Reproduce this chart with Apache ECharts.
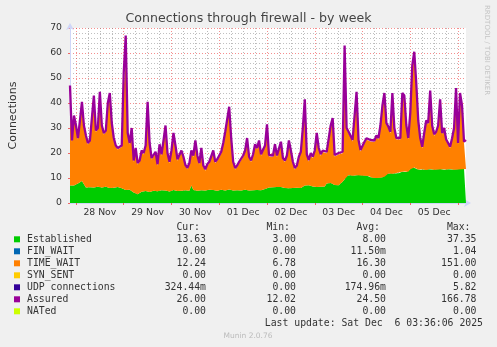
<!DOCTYPE html>
<html><head><meta charset="utf-8">
<script src="https://cdn.jsdelivr.net/npm/echarts@6/dist/echarts.min.js"></script>
<style>html,body{margin:0;padding:0;background:#f0f0f0}#c{width:497px;height:347px}</style>
</head><body><div id="c"></div>
<script>
// hours since 27 Nov 00:00 (one sample per hour)
const hours = [];
for (let h = 21; h <= 220; h++) hours.push(h);
const dayLabels = ['28 Nov', '29 Nov', '30 Nov', '01 Dec', '02 Dec', '03 Dec', '04 Dec', '05 Dec'];
const yTicks = [0, 10, 20, 30, 40, 50, 60, 70];

const established = [
7.0,7.2,7.0,7.3,7.8,8.5,8.8,7.5,
6.2,6.5,6.3,6.4,6.2,6.3,6.5,6.4,6.2,6.3,6.5,6.2,6.0,6.3,6.1,6.2,6.4,6.0,5.9,
5.5,5.2,5.0,5.3,5.0,
4.2,3.8,3.5,4.0,
4.5,4.3,4.8,4.6,4.4,4.7,
4.9,5.0,4.7,4.8,5.1,4.9,5.0,4.8,4.6,4.9,5.2,5.0,4.8,4.7,4.9,5.0,5.1,4.8,4.9,
7.0,5.2,5.0,4.9,5.0,5.1,
5.2,5.0,5.1,5.3,5.0,5.2,5.1,4.9,5.2,5.3,5.1,5.0,5.2,5.4,5.1,5.0,5.2,5.1,4.9,5.0,5.2,5.3,5.1,5.0,5.2,5.1,5.3,5.2,5.0,5.1,5.4,
5.6,5.9,6.2,6.5,6.3,6.6,6.4,6.2,6.4,
6.1,6.0,6.2,5.9,6.1,6.0,6.2,6.1,5.9,6.0,6.2,
7.0,7.2,7.1,6.9,
6.6,6.5,6.4,6.6,6.5,6.7,6.6,
7.8,8.2,8.0,7.6,
7.2,7.3,7.1,
7.8,8.5,9.5,
11.0,11.2,11.1,10.9,11.0,
11.1,11.2,11.0,11.1,10.9,11.0,10.8,
10.3,10.1,10.2,10.0,10.2,10.1,10.3,10.5,
11.5,11.8,11.9,11.7,11.8,12.0,11.9,
12.4,12.5,12.6,12.4,12.5,
13.5,14.5,14.2,
13.6,13.4,13.3,13.5,13.4,13.2,13.5,13.6,13.4,13.3,13.5,13.4,13.6,13.5,13.3,13.4,13.5,13.6,13.4,13.3,13.5,13.4,13.6,13.5,13.7,13.6
];

const timeWait = [
28.0,17.2,27.4,23.1,17.6,23.9,31.1,22.9,20.2,16.9,
18.1,17.5,36.2,22.1,22.9,37.5,24.2,21.1,21.9,33.2,
37.4,25.1,19.3,16.2,15.0,14.9,16.5,40.5,50.8,22.4,
18.1,24.4,12.2,17.6,11.9,12.4,15.9,15.1,17.6,35.3,
19.0,12.7,13.0,14.9,10.2,18.1,13.8,19.5,25.4,14.6,
11.3,15.5,22.2,17.4,12.1,12.2,15.5,12.9,9.5,8.7,
10.5,13.4,13.2,19.4,13.5,10.4,16.3,9.2,7.9,9.8,
10.6,10.4,15.2,10.8,12.0,13.2,14.6,18.3,22.9,22.7,
32.5,20.3,10.9,8.2,9.3,11.0,11.4,13.2,15.1,20.3,
12.9,11.2,13.8,17.6,16.2,19.4,13.8,13.0,16.8,25.0,
12.4,12.4,12.1,16.3,12.0,11.7,17.5,11.3,10.4,12.2,
18.5,14.3,9.9,7.2,8.3,12.0,13.9,23.2,33.9,11.7,
9.5,12.5,11.3,13.9,21.0,14.8,12.4,13.7,13.6,12.1,
11.2,22.4,25.8,11.4,10.6,12.3,11.6,11.4,42.5,18.4,
16.7,17.3,13.7,14.4,32.8,13.4,9.6,10.3,13.0,14.3,
13.8,14.3,14.8,14.2,16.4,15.2,20.3,28.1,32.9,19.9,
18.1,16.0,31.7,17.6,13.4,12.7,13.0,30.9,29.8,18.2,
12.9,21.9,39.9,43.8,33.8,19.0,12.1,8.4,14.0,19.2,
17.9,30.8,17.0,13.6,14.4,17.0,27.3,13.9,16.1,11.5,
10.9,8.3,11.9,16.1,31.9,10.0,29.8,24.9,10.2,11.0
];

const assured = [
47,25,35,31,26,33,40.5,31,27,24,
25,24.5,43,29,30,44.5,31,28,29,40,
44,32,26,23,22,21.5,23,52,67,28,
24,30,17,22,16,17,21,20,23,40.5,
24,18,18.5,20.5,15.5,23.5,19.5,25,31,20,
16.5,21,28,23,17.5,17.5,21,18.5,15.2,14.1,
16,21,19,25,19,16,22,15,13.5,15.5,
16.5,16,21,16.5,17.5,19,20.5,24,28.5,28.5,
38.5,26,16.5,14,15,16.5,17,19,21,26,
18.5,17,19.5,23.5,22,25,19.5,19,23,31.5,
19.2,19.5,19,23.5,19,18.5,24.5,18,17,19,
25,21,16.5,14,15,18.5,20.5,30,41.5,19.5,
17.2,20,18.5,21,28,22,19.5,21,20.8,20.5,
20,31,34,19.2,18.5,20,20,20.5,63,30,
28.5,29,25.2,26,44.5,25.2,21.2,22,24.5,25.9,
25.2,25.2,25.5,25,27,26,31,39,44,32,
30.5,28.5,44,30,26,25.2,26,44,43,31.2,
26,36,55,60.5,48,33,26,22.5,28,33,
32,45,31,27.5,28.5,31,41.5,28,30,25.5,
25,22.5,25.9,30,46,24,44,39,24.5,25.2
];

const legendNames = ['Established', 'FIN_WAIT', 'TIME_WAIT', 'SYN_SENT', 'UDP connections', 'Assured', 'NATed'];
const legendColors = ['#00cc00', '#0066b3', '#ff8000', '#ffcc00', '#330099', '#990099', '#ccff00'];
const statHeaders = ['Cur:', 'Min:', 'Avg:', 'Max:'];
const statCur = ['13.63', '0.00', '12.24', '0.00', '324.44m', '26.00', '0.00'];
const statMin = ['3.00', '0.00', '6.78', '0.00', '0.00', '12.02', '0.00'];
const statAvg = ['8.00', '11.50m', '16.30', '0.00', '174.96m', '24.50', '0.00'];
const statMax = ['37.35', '1.04', '151.00', '0.00', '5.82', '166.78', '0.00'];
const lastUpdate = 'Last update: Sat Dec  6 03:36:06 2025';

const mono = '9.8px "DejaVu Sans Mono"';
const textColor = '#333';
const colRight = [206, 296, 386, 476.5];
const graphics = [];
statHeaders.forEach((h, j) => {
  graphics.push({type: 'text', x: colRight[j] - 6, y: 227.7,
    style: {text: h, font: mono, fill: textColor, textAlign: 'right', verticalAlign: 'middle'}});
});
const stats = [statCur, statMin, statAvg, statMax];
legendNames.forEach((name, i) => {
  const cy = 239.3 + 12 * i;
  graphics.push({type: 'rect', shape: {x: 14, y: cy - 3, width: 6, height: 6}, style: {fill: legendColors[i]}});
  graphics.push({type: 'text', x: 27, y: cy,
    style: {text: name, font: mono, fill: textColor, textAlign: 'left', verticalAlign: 'middle'}});
  stats.forEach((col, j) => {
    graphics.push({type: 'text', x: colRight[j], y: cy,
      style: {text: col[i], font: mono, fill: textColor, textAlign: 'right', verticalAlign: 'middle'}});
  });
});
graphics.push({type: 'text', x: 483, y: 323.7,
  style: {text: lastUpdate, font: mono, fill: textColor, textAlign: 'right', verticalAlign: 'middle'}});
graphics.push({type: 'text', x: 248, y: 335.7,
  style: {text: 'Munin 2.0.76', font: '7.5px "DejaVu Sans"', fill: '#bbbbbb', textAlign: 'center', verticalAlign: 'middle'}});
graphics.push({type: 'text', x: 487, y: 5, rotation: -Math.PI / 2,
  style: {text: 'RRDTOOL / TOBI OETIKER', font: '7px "DejaVu Sans"', fill: '#c4c4c4', textAlign: 'left', verticalAlign: 'middle'}});

const chart = echarts.init(document.getElementById('c'), null, {renderer: 'canvas'});
chart.setOption({
  animation: false,
  backgroundColor: '#f0f0f0',
  title: {
    text: 'Connections through firewall - by week',
    left: 'center', top: 12.5, padding: 0,
    textStyle: {fontFamily: 'DejaVu Sans', fontSize: 12.6, fontWeight: 'normal', color: '#444'}
  },
  grid: {left: 68, top: 28, width: 398, height: 175, show: true, backgroundColor: '#ffffff', borderWidth: 0},
  xAxis: [{
    type: 'category', data: hours, boundaryGap: false,
    axisLine: {show: true, lineStyle: {color: '#cfd6f8', width: 1}, symbol: ['none', 'arrow'], symbolSize: [6, 7], symbolOffset: [0, 5]},
    axisTick: {show: true, length: 2, inside: false, lineStyle: {color: '#ee6666'},
      interval: (i, v) => Number(v) % 24 === 0},
    axisLabel: {show: true, margin: 5.5, fontFamily: 'DejaVu Sans', fontSize: 9.3, color: '#333',
      interval: (i, v) => Number(v) % 24 === 12,
      formatter: v => { const h = Number(v); return h % 24 === 12 ? dayLabels[(h - 36) / 24] : ''; }},
    splitLine: {show: true, interval: (i, v) => Number(v) % 24 === 0,
      lineStyle: {color: 'rgba(235,30,30,0.5)', width: 1, type: [1, 2]}}
  }, {
    type: 'category', data: hours, boundaryGap: false, position: 'bottom',
    axisLine: {show: false}, axisTick: {show: false}, axisLabel: {show: false},
    splitLine: {show: true, interval: (i, v) => Number(v) % 6 === 0 && Number(v) % 24 !== 0,
      lineStyle: {color: 'rgba(130,130,130,0.55)', width: 1, type: [1, 2]}}
  }],
  yAxis: {
    type: 'value', min: 0, max: 70, interval: 10,
    name: 'Connections', nameLocation: 'middle', nameGap: 51, nameRotate: 90,
    nameTextStyle: {fontFamily: 'DejaVu Sans', fontSize: 11, color: '#333'},
    axisLine: {show: true, lineStyle: {color: '#cfd6f8', width: 1}, symbol: ['none', 'arrow'], symbolSize: [6, 7], symbolOffset: [0, 5]},
    axisTick: {show: true, length: 2, lineStyle: {color: '#ee6666'}},
    minorTick: {show: false, splitNumber: 5},
    axisLabel: {margin: 8, fontFamily: 'DejaVu Sans', fontSize: 9.3, color: '#333',
      formatter: v => yTicks.includes(v) ? String(v) : ''},
    splitLine: {show: true, lineStyle: {color: 'rgba(235,30,30,0.5)', width: 1, type: [1, 2]}},
    minorSplitLine: {show: true, lineStyle: {color: 'rgba(130,130,130,0.5)', width: 1, type: [1, 2]}}
  },
  series: [{
    name: 'Established', type: 'line', stack: 'conn', data: established,
    symbol: 'none', lineStyle: {width: 0}, itemStyle: {color: '#00cc00'},
    areaStyle: {color: '#00cc00', opacity: 1}
  }, {
    name: 'TIME_WAIT', type: 'line', stack: 'conn', data: timeWait,
    symbol: 'none', lineStyle: {width: 0}, itemStyle: {color: '#ff8000'},
    areaStyle: {color: '#ff8000', opacity: 1}
  }, {
    name: 'Assured', type: 'line', data: assured,
    symbol: 'none', lineStyle: {width: 2.3, color: '#990099'}, itemStyle: {color: '#990099'}, z: 5
  }],
  graphic: graphics
});
</script>
</body></html>
